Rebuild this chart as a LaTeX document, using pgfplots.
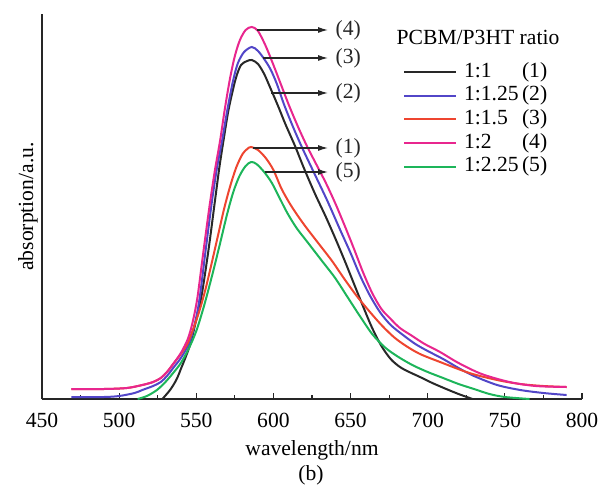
\documentclass[border=0pt]{standalone}
\usepackage{fontspec}
\setmainfont{Liberation Serif}
\usepackage{pgfplots}
\pgfplotsset{compat=1.18}
\usetikzlibrary{arrows.meta}

\definecolor{cblack}{RGB}{40,40,40}
\definecolor{cblue}{RGB}{82,70,200}
\definecolor{cred}{RGB}{238,69,48}
\definecolor{cpink}{RGB}{232,38,142}
\definecolor{cgreen}{RGB}{29,181,90}

\begin{document}
\begin{tikzpicture}[font=\fontsize{10.8pt}{13pt}\selectfont]
\path[use as bounding box] (-21pt,-47.5pt) rectangle (278pt,199.5pt);
\begin{axis}[
  at={(0pt,0pt)}, anchor=south west,
  scale only axis, width=270pt, height=192.5pt,
  xmin=450, xmax=800, ymin=0, ymax=385,
  axis x line=bottom, axis y line=left,
  axis line style={-, line width=0.75pt, black!85},
  xtick={450,500,...,800}, minor x tick num=1, ytick=\empty,
  xtick align=inside, major tick length=3pt, minor tick length=2pt,
  tick style={line width=0.6pt, black!85},
  /pgf/number format/assume math mode=true,
  /pgf/number format/1000 sep={},
  xticklabel style={anchor=center, yshift=-10.5pt},
  xlabel={wavelength/nm},
  xlabel style={at={(axis description cs:0.5,0)}, anchor=center, yshift=-25.5pt},
  ylabel={absorption/a.u.},
  ylabel style={at={(axis description cs:-0.026,0.5)}, anchor=center},
  clip=false,
  every axis plot/.append style={line width=1pt, smooth, tension=0.5},
  legend image code/.code={\draw[#1] (0pt,0pt) -- (26pt,0pt);},
  legend style={at={(axis cs:684,279.5)}, anchor=west, draw=none, fill=none,
    inner sep=0pt, outer sep=0pt, row sep=1.85pt,
    nodes={inner sep=0pt, text height=7.5pt, text depth=2.5pt},
    /tikz/every odd column/.append style={column sep=3.5pt}},
  legend cell align=left,
]
% 1:1 (1)
\addplot[cblack] coordinates {(528,0)(533,9)(537,19)(540,30)(545.5,52)(549.5,76)(553.5,104)(558,150)(562,197)(565,232)(568,262)(571,290)(575.5,320)(579,334)(583,338)(586,339)(590,335)(594,325)(598,311)(603,293)(608,274)(614,253)(620,230)(627,205)(634,182)(640,161)(646,139)(652,116)(658,93)(664,71)(670,53)(676,40)(682,32)(688,27)(695,22)(703,16)(712,10)(720,5)(729,0)};
\addlegendentry{\makebox[29pt][l]{1:1}(1)}
% 1:1.25 (2)
\addplot[cblue] coordinates {(469,2)(490,2)(500,3)(510,6)(515,9)(522,13)(527,17)(531,23)(535,31)(540,41)(545.5,56)(549,75)(552,99)(556,148)(560,196)(563.5,232)(566.7,258)(570,288)(573.8,318)(577,336)(581,347)(586,352)(590,348)(594,340)(598,330)(602,316)(607,294)(613,271)(619,250)(627,224)(635,198)(643,170)(650,146)(656,124)(662,105)(669,87)(676,74)(684,64)(692,55)(700,48)(710,40)(720,31)(730,23)(745,14)(760,9)(775,6)(790,4)};
\addlegendentry{\makebox[29pt][l]{1:1.25}(2)}
% 1:1.5 (3)
\addplot[cred] coordinates {(469,10)(490,10)(505,11)(515,14)(522,17)(527,21)(531,27)(535,35)(540,45)(544.5,56)(548,70)(552,88)(556,110)(560,136)(564,163)(568,190)(572,213)(576,232)(580,245)(583,250)(585.5,252)(590,249)(595,241)(600,229)(605,211)(610,197)(615,185)(621,172)(629,156)(638,138)(646,120)(654,103)(662,88)(670,74)(678,62)(686,53)(695,45)(708,37)(727,26)(745,19)(760,15)(775,13)(790,12)};
\addlegendentry{\makebox[29pt][l]{1:1.5}(3)}
% 1:2 (4)
\addplot[cpink] coordinates {(469,10)(490,10)(505,11)(515,14)(522,17)(527,21)(531,27)(535,35)(540,46)(544.5,60)(547.5,76)(550.7,101)(554.5,146)(558.5,192)(562,228)(565.4,258)(568.5,290)(571.8,320)(575,343)(578.3,359)(582,369)(586,372)(590,368)(595,353)(600,334)(605,314)(610,294)(616,272)(622,252)(628,234)(634,216)(640,196)(646,174)(652,151)(658,127)(664,106)(670,90)(676,80)(682,71)(690,63)(698,55)(708,47)(720,36)(735,25)(753,17)(770,13)(790,12)};
\addlegendentry{\makebox[29pt][l]{1:2}(4)}
% 1:2.25 (5)
\addplot[cgreen] coordinates {(512,0)(518,3)(524.5,9)(530,17)(535,26)(540,36)(545,50)(550,68)(555,93)(560,122)(565,153)(570,185)(574,207)(578,223)(582,233)(585.5,237)(589,235)(594,227)(599,216)(604,201)(609,186)(615,171)(622,157)(631,139)(640,121)(648,102)(656,83)(664,65)(672,52)(680,43)(690,34)(700,27)(710,21)(720,15)(730,10)(740,5)(750,2)(766,0)};
\addlegendentry{\makebox[29pt][l]{1:2.25}(5)}

\node at (axis cs:732.6,362) {PCBM/P3HT ratio};
\node at (rel axis cs:0.498,0) [yshift=-38pt] {(b)};

\begin{scope}[line width=0.6pt, black!85, -{Latex[length=5pt,width=3pt]}]
\draw (axis cs:589.3,369) -- (axis cs:635.4,369) node[anchor=west, inner sep=0pt, xshift=3.5pt] {(4)};
\draw (axis cs:593.2,341) -- (axis cs:635.4,341) node[anchor=west, inner sep=0pt, xshift=3.5pt] {(3)};
\draw (axis cs:598.5,306) -- (axis cs:635.4,306) node[anchor=west, inner sep=0pt, xshift=3.5pt] {(2)};
\draw (axis cs:586.8,251) -- (axis cs:635.4,251) node[anchor=west, inner sep=0pt, xshift=3.5pt] {(1)};
\draw (axis cs:594.5,227) -- (axis cs:635.4,227) node[anchor=west, inner sep=0pt, xshift=3.5pt] {(5)};
\end{scope}
\end{axis}
\end{tikzpicture}
\end{document}
